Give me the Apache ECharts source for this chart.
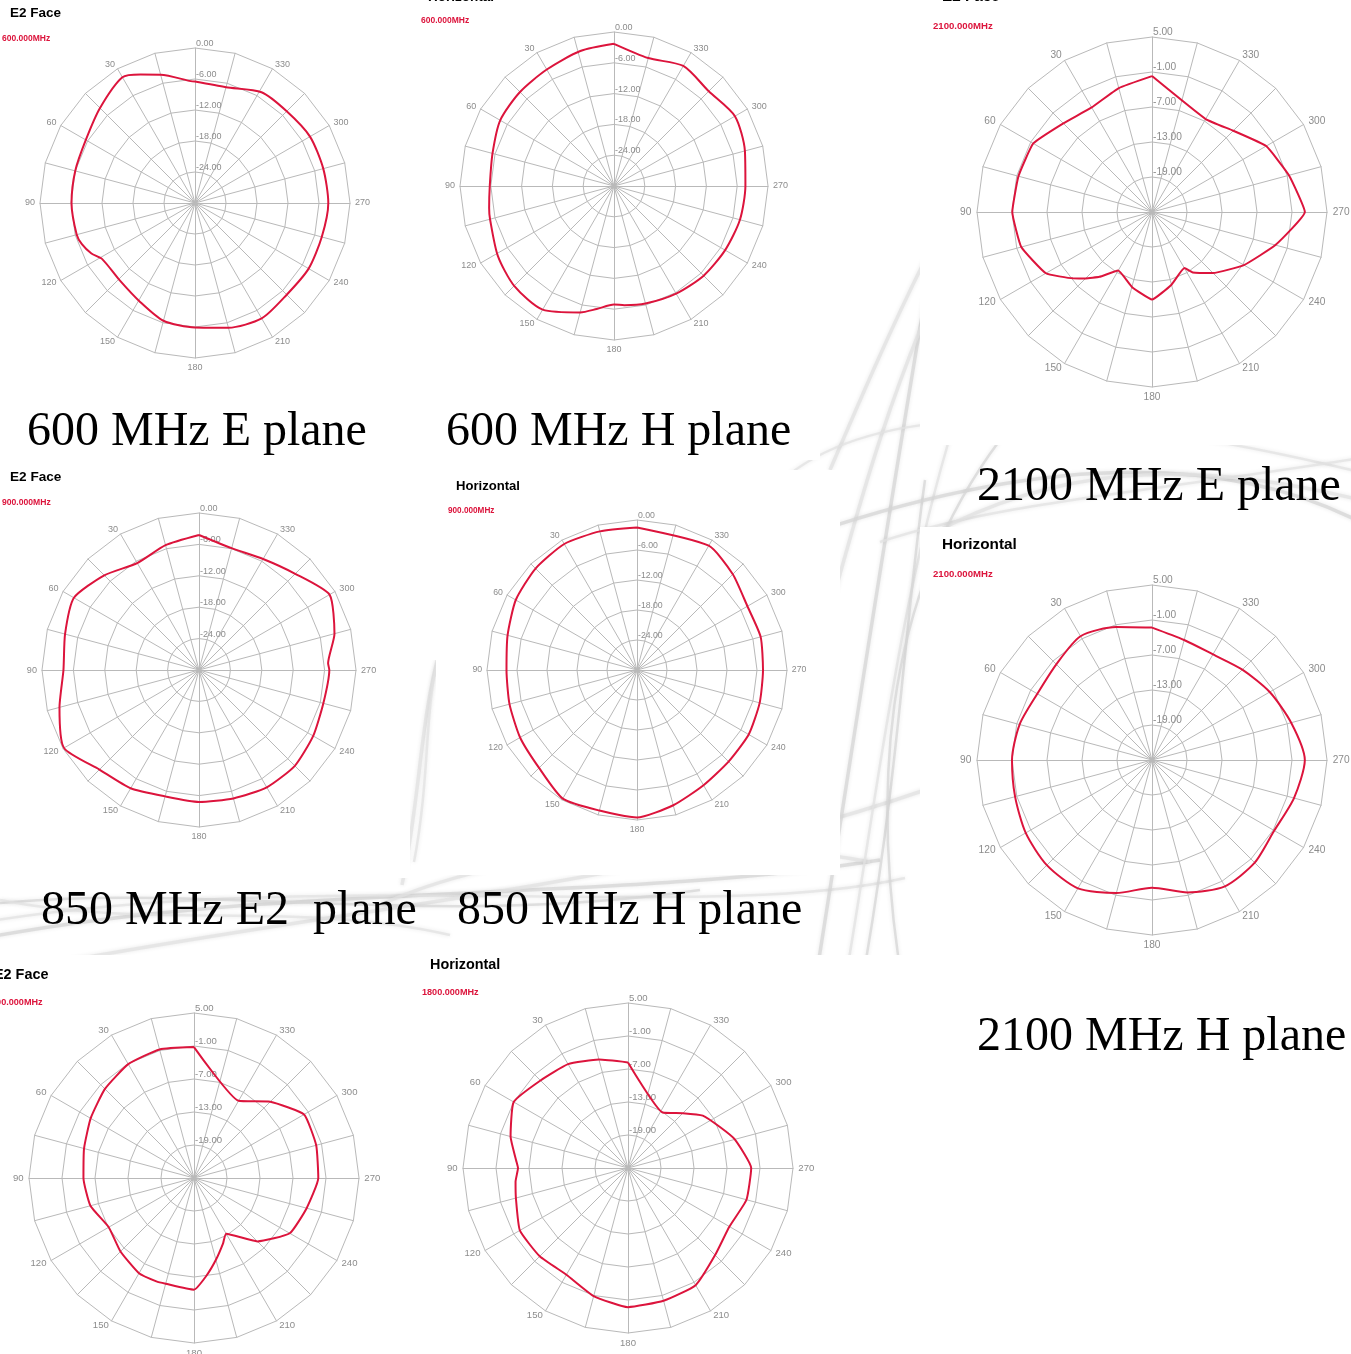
<!DOCTYPE html>
<html><head><meta charset="utf-8">
<script src="https://cdn.jsdelivr.net/npm/echarts@6/dist/echarts.min.js"></script>
<style>html,body{margin:0;padding:0;background:#fff;overflow:hidden}#c{width:1351px;height:1354px}</style>
</head><body><div id="c"></div>
<script>
// angle tick labels (every 30 degrees, counter-clockwise from top)
const angleTickLabels = ['30','60','90','120','150','180','210','240','270','300','330'];

// [angle in degrees, level in dB]
const e600 = [[0,-6.5],[2,-6.4],[15,-4.3],[23,-3.0],[30,-1.9],[45,-4.0],[60,-5.6],[75,-6.0],[90,-6.1],[105,-6.3],[110,-6.7],[116,-7.7],[121,-9.0],[136,-9.1],[151,-8.1],[165,-6.4],[180,-5.9],[195,-5.0],[210,-4.2],[225,-4.9],[240,-4.6],[255,-4.6],[270,-4.2],[285,-4.3],[300,-4.3],[315,-4.9],[329,-5.0],[345,-6.8],[360,-6.5]];
const h600 = [[0,-2.3],[14,-2.9],[30,-3.8],[45,-4.1],[60,-4.4],[75,-5.5],[90,-5.8],[100,-5.3],[105,-5.0],[121,-3.6],[135,-2.5],[150,-2.2],[165,-4.5],[172,-5.8],[180,-6.9],[185,-6.7],[195,-6.3],[210,-5.8],[225,-5.3],[240,-5.0],[255,-4.6],[270,-4.4],[285,-3.6],[300,-2.8],[315,-3.9],[330,-3.0],[345,-4.2],[360,-2.3]];
const e2100 = [[0,-1.7],[15,-3.0],[30,-4.3],[45,-3.5],[60,-1.5],[75,-1.3],[90,-1.05],[105,-1.8],[120,-4.0],[130,-7.3],[135,-8.9],[141,-10.7],[150,-13.4],[165,-11.7],[180,-10.0],[195,-12.1],[210,-13.9],[214,-12.5],[225,-10.2],[240,-6.8],[255,-3.1],[270,1.2],[285,-0.7],[300,-2.4],[315,-5.3],[330,-6.6],[360,-1.7]];
const e900 = [[0,-4.2],[15,-5.3],[30,-6.4],[45,-4.4],[60,-2.4],[75,-3.5],[90,-4.1],[105,-2.4],[120,-0.2],[135,-3.1],[150,-3.9],[165,-5.0],[180,-4.8],[195,-4.6],[210,-4.1],[225,-4.1],[240,-4.8],[255,-5.4],[270,-5.1],[273,-5.3],[285,-3.2],[300,-1.2],[315,-4.0],[330,-5.5],[345,-5.9],[360,-4.2]];
const h900 = [[0,-1.5],[15,-1.3],[30,-0.9],[45,-1.3],[60,-2.0],[75,-3.2],[90,-3.9],[105,-3.6],[120,-3.0],[135,-2.3],[150,-0.3],[165,-0.9],[180,-0.5],[195,-2.0],[210,-3.4],[225,-4.1],[240,-4.2],[255,-4.6],[270,-4.8],[285,-4.4],[300,-4.5],[315,-2.9],[330,-1.3],[360,-1.5]];
const h2100 = [[0,-2.3],[15,-1.4],[30,-0.5],[45,-1.8],[60,-2.3],[75,-1.5],[90,-1.0],[105,-0.7],[120,0.0],[135,0.5],[150,0.4],[165,-1.4],[180,-3.1],[195,-1.5],[210,0.0],[225,-0.1],[240,-0.8],[255,0.2],[270,1.2],[285,-0.3],[300,-1.7],[315,-3.1],[330,-4.1],[345,-3.7],[360,-2.3]];
const e1800 = [[0,-1.2],[15,-0.8],[30,-1.1],[45,-2.1],[60,-3.3],[75,-4.3],[90,-4.9],[105,-5.5],[120,-7.1],[135,-6.1],[150,-5.0],[160,-5.0],[165,-5.1],[180,-4.7],[187,-7.0],[195,-9.6],[204,-12.0],[210,-13.3],[225,-8.7],[240,-4.9],[255,-3.8],[270,-2.4],[285,-2.0],[300,-1.9],[315,-5.4],[330,-8.8],[360,-1.2]];
const h1800 = [[0,-5.8],[15,-4.6],[30,-3.2],[45,-2.5],[60,-1.0],[75,-2.9],[86,-4.6],[90,-5.0],[97,-4.4],[105,-3.9],[120,-2.3],[135,-2.3],[150,-2.6],[165,-0.9],[180,0.3],[195,0.0],[210,-0.4],[225,-2.6],[240,-3.7],[255,-2.7],[270,-2.6],[285,-4.9],[294,-6.7],[305,-8.4],[315,-10.9],[328,-13.1],[360,-5.8]];

// panel layout (k = scale of the panel's small text)
const panels = [
  {data:e600,  c:[195,203],  r:155, k:1.0,  min:-30, max:0, sm:0.25, title:'E2 Face',    tx:10,  ty:13,   freq:'600.000MHz',  fx:2,   fy:39},
  {data:h600,  c:[614,186],  r:154, k:1.0,  min:-30, max:0, sm:0.25, title:'Horizontal', tx:428, ty:-3,   freq:'600.000MHz',  fx:421, fy:21},
  {data:e2100, c:[1152,212], r:175, k:1.13, min:-25, max:5, sm:0.12, title:'E2 Face',    tx:942, ty:-3,   freq:'2100.000MHz', fx:933, fy:26},
  {data:e900,  c:[199,670],  r:157, k:1.01, min:-30, max:0, sm:0.2,  title:'E2 Face',    tx:10,  ty:477,  freq:'900.000MHz',  fx:2,   fy:503},
  {data:h900,  c:[637,670],  r:150, k:0.97, min:-30, max:0, sm:0.2,  title:'Horizontal', tx:456, ty:486,  freq:'900.000MHz',  fx:448, fy:511},
  {data:h2100, c:[1152,760], r:175, k:1.13, min:-25, max:5, sm:0.25, title:'Horizontal', tx:942, ty:545,  freq:'2100.000MHz', fx:933, fy:574},
  {data:e1800, c:[194,1178], r:165, k:1.065,min:-25, max:5, sm:0.15, title:'E2 Face',    tx:-6,  ty:975,  freq:'1800.000MHz', fx:-14, fy:1002},
  {data:h1800, c:[628,1168], r:165, k:1.065,min:-25, max:5, sm:0.15, title:'Horizontal', tx:430, ty:965,  freq:'1800.000MHz', fx:422, fy:992}
];
const captions = [
  {text:'600 MHz E plane',   x:27,  y:432},
  {text:'600 MHz H plane',   x:446, y:432},
  {text:'2100 MHz E plane',  x:977, y:487},
  {text:'850 MHz E2  plane', x:41,  y:911},
  {text:'850 MHz H plane',   x:457, y:911},
  {text:'2100 MHz H plane',  x:977, y:1037}
];

const GRID = '#b9b9b9', LBL = '#8c8c8c', RED = '#dc143c';
const SANS = '"Liberation Sans", Arial, sans-serif';

function indicators(p) {
  const out = [];
  for (let i = 0; i < 24; i++) {
    const a = i * 15;
    const name = (a % 30 === 0 && a !== 0) ? angleTickLabels[a / 30 - 1] : '';
    const ind = {name: name, min: p.min, max: p.max};
    if (i === 0) ind.axisLabel = {show: true};
    out.push(ind);
  }
  return out;
}

// decorative sketch strokes of the page background (visible only between panels)
// [x1,y1, cpx1,cpy1, cpx2,cpy2, x2,y2]
const swoosh = [
  [-50,945, 250,880, 600,905, 880,860],
  [-50,928, 300,862, 700,925, 905,878],
  [60,962, 400,900, 650,885, 925,790],
  [-20,905, 200,880, 420,930, 700,890],
  [380,905, 500,850, 700,830, 870,862],
  [0,900, 150,930, 300,900, 450,935],
  [818,965, 860,700, 890,500, 935,240],
  [848,965, 882,760, 900,600, 955,420],
  [800,720, 845,560, 880,400, 965,230],
  [866,960, 900,760, 905,620, 925,480],
  [830,470, 860,400, 890,330, 925,260],
  [780,482, 850,420, 1000,385, 1360,472],
  [815,532, 1000,470, 1200,440, 1360,522],
  [880,542, 1000,502, 1150,492, 1360,458],
  [930,535, 1050,470, 1180,455, 1360,500],
  [905,1000, 870,800, 880,600, 1000,440],
  [402,885, 420,800, 420,720, 440,650],
  [414,862, 430,780, 425,700, 438,662]
];
const whiteBlocks = [
  [0,0,820,460],[820,0,100,250],[920,0,431,445],[0,460,410,418],[410,460,26,200],
  [436,470,404,405],[920,527,431,827],[0,955,920,399]
];

const option = {
  animation: false,
  backgroundColor: '#fff',
  radar: panels.map(p => ({
    center: p.c, radius: p.r, startAngle: 90, splitNumber: 5, shape: 'polygon',
    indicator: indicators(p),
    axisName: {color: LBL, fontSize: 9 * p.k, fontFamily: SANS},
    nameGap: 5 * p.k,
    splitLine: {lineStyle: {color: GRID, width: 1}},
    splitArea: {show: false},
    axisLine: {lineStyle: {color: GRID, width: 1}},
    axisTick: {show: false},
    axisLabel: {
      show: false, color: LBL, fontSize: 9 * p.k, fontFamily: SANS,
      align: 'left', verticalAlign: 'bottom', margin: -1,
      formatter: v => (Math.abs(v - p.min) < 1e-6 ? '' : Number(v).toFixed(2))
    }
  })),
  polar: panels.map(p => ({center: p.c, radius: p.r})),
  angleAxis: panels.map((p, i) => ({polarIndex: i, type: 'value', min: 0, max: 360, startAngle: 90, clockwise: false, show: false})),
  radiusAxis: panels.map((p, i) => ({polarIndex: i, type: 'value', min: p.min, max: p.max, show: false})),
  series: panels.map((p, i) => ({
    type: 'line', coordinateSystem: 'polar', polarIndex: i,
    data: p.data.map(d => [d[1], d[0]]),
    symbol: 'none', smooth: p.sm, z: 5,
    lineStyle: {color: RED, width: 2}
  })),
  graphic: [].concat(
    swoosh.map((s, i) => ({type: 'bezierCurve', z: -30, silent: true,
      shape: {x1: s[0], y1: s[1], cpx1: s[2], cpy1: s[3], cpx2: s[4], cpy2: s[5], x2: s[6], y2: s[7]},
      style: {fill: null, stroke: i % 3 === 0 ? '#d6d6d6' : '#e2e2e2', lineWidth: i % 2 ? 2.5 : 3.5, opacity: 0.75,
        shadowBlur: 4, shadowColor: 'rgba(0,0,0,0.12)'}})),
    whiteBlocks.map(b => ({type: 'rect', z: -20, silent: true, shape: {x: b[0], y: b[1], width: b[2], height: b[3]}, style: {fill: '#fff'}})),
    panels.map(p => ({type: 'text', x: p.tx, y: p.ty, style: {text: p.title, fill: '#000', font: 'bold ' + (13.5 * p.k).toFixed(1) + 'px ' + SANS, textVerticalAlign: 'middle'}})),
    panels.map(p => ({type: 'text', x: p.fx, y: p.fy, style: {text: p.freq, fill: RED, font: 'bold ' + (8.5 * p.k).toFixed(1) + 'px ' + SANS, textVerticalAlign: 'middle'}})),
    captions.map(c => ({type: 'text', x: c.x, y: c.y, style: {text: c.text, fill: '#000', font: '48px "Liberation Serif", "Times New Roman", serif', textVerticalAlign: 'middle'}}))
  )
};

const chart = echarts.init(document.getElementById('c'), null, {renderer: 'canvas'});
chart.setOption(option);
</script>
</body></html>
